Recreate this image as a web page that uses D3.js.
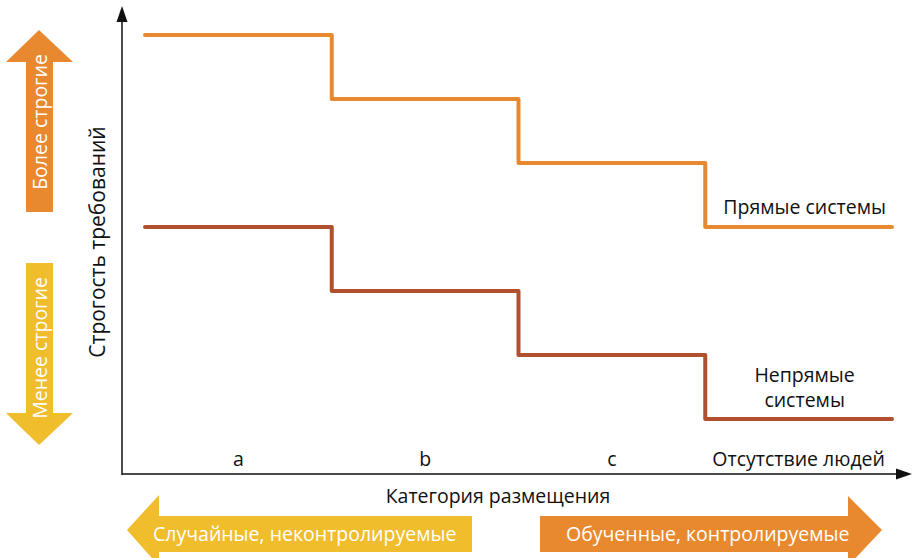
<!DOCTYPE html>
<html>
<head>
<meta charset="utf-8">
<script src="https://cdn.jsdelivr.net/npm/d3@7"></script>
<style>
  body { margin: 0; background: #fff; }
  svg { display: block; font-family: 'Open Sans', sans-serif; }
</style>
</head>
<body>
<div id="root"></div>
<script>
// categories along x, step levels for the two series
const categories = ['a', 'b', 'c', 'Отсутствие людей']
const directLevels = [7, 6, 5, 4]
const indirectLevels = [4, 3, 2, 1]
const seriesNames = ['Прямые системы', 'Непрямые системы']

const width = 914
const height = 558
const orange = '#e8892f'
const rust = '#b0502c'
const yellow = '#f0bd2c'

const svg = d3.select('#root').append('svg')
  .attr('width', width)
  .attr('height', height)

const x = d3.scaleBand().domain(categories).range([145, 892])
const y = d3.scaleLinear().domain([1, 7]).range([419, 35])

const axisX0 = 122
const axisY0 = 474

// axes with arrow heads
svg.append('line')
  .attr('x1', axisX0).attr('x2', axisX0)
  .attr('y1', axisY0 + 1).attr('y2', 20)
  .attr('stroke', '#111').attr('stroke-width', 1.5)
svg.append('path')
  .attr('d', `M${axisX0},6 L${axisX0 + 5.5},22 L${axisX0 - 5.5},22 Z`)
  .attr('fill', '#111')
svg.append('line')
  .attr('x1', axisX0).attr('x2', 898)
  .attr('y1', axisY0).attr('y2', axisY0)
  .attr('stroke', '#111').attr('stroke-width', 1.5)
svg.append('path')
  .attr('d', `M912,${axisY0} L896,${axisY0 - 5.5} L896,${axisY0 + 5.5} Z`)
  .attr('fill', '#111')

// category labels
svg.append('g').selectAll('text')
  .data(categories)
  .join('text')
  .attr('x', d => x(d) + x.bandwidth() / 2)
  .attr('y', 466)
  .attr('text-anchor', 'middle')
  .attr('font-size', 19.5)
  .attr('fill', '#111')
  .text(d => d)

// step lines
const line = d3.line()
  .x(d => d[0])
  .y(d => d[1])
  .curve(d3.curveStepAfter)

function stepPoints(levels) {
  const pts = categories.map((c, i) => [x(c), y(levels[i])])
  const last = categories[categories.length - 1]
  pts.push([x(last) + x.bandwidth(), y(levels[levels.length - 1])])
  return pts
}

svg.append('path')
  .attr('d', line(stepPoints(directLevels)))
  .attr('fill', 'none')
  .attr('stroke', orange)
  .attr('stroke-width', 4)
  .attr('stroke-linejoin', 'round')
  .attr('stroke-linecap', 'round')

svg.append('path')
  .attr('d', line(stepPoints(indirectLevels)))
  .attr('fill', 'none')
  .attr('stroke', rust)
  .attr('stroke-width', 4)
  .attr('stroke-linejoin', 'round')
  .attr('stroke-linecap', 'round')

// series labels
const lastCat = categories[categories.length - 1]
const labelX = x(lastCat) + x.bandwidth() / 2 + 6
svg.append('text')
  .attr('x', labelX)
  .attr('y', y(directLevels[3]) - 13)
  .attr('text-anchor', 'middle')
  .attr('font-size', 19.5)
  .attr('fill', '#111')
  .text(seriesNames[0])

const ind = svg.append('text')
  .attr('x', labelX)
  .attr('text-anchor', 'middle')
  .attr('font-size', 19.5)
  .attr('fill', '#111')
ind.append('tspan').attr('x', labelX).attr('y', y(indirectLevels[3]) - 37).text('Непрямые')
ind.append('tspan').attr('x', labelX).attr('y', y(indirectLevels[3]) - 12).text('системы')

// axis titles
svg.append('text')
  .attr('x', 498)
  .attr('y', 503)
  .attr('text-anchor', 'middle')
  .attr('font-size', 19.5)
  .attr('fill', '#111')
  .text('Категория размещения')

svg.append('text')
  .attr('transform', 'translate(105,242) rotate(-90)')
  .attr('text-anchor', 'middle')
  .attr('font-size', 21)
  .attr('fill', '#111')
  .text('Строгость требований')

// vertical arrows on the left
svg.append('path')
  .attr('d', 'M39,30 L73,62 L53,62 L53,212 L26,212 L26,62 L6,62 Z')
  .attr('fill', orange)
svg.append('text')
  .attr('transform', 'translate(47,122) rotate(-90)')
  .attr('text-anchor', 'middle')
  .attr('font-size', 19.5)
  .attr('fill', '#fff')
  .text('Более строгие')

svg.append('path')
  .attr('d', 'M26,263 L53,263 L53,413 L73,413 L39,445 L6,413 L26,413 Z')
  .attr('fill', yellow)
svg.append('text')
  .attr('transform', 'translate(47,348) rotate(-90)')
  .attr('text-anchor', 'middle')
  .attr('font-size', 19.5)
  .attr('fill', '#fff')
  .text('Менее строгие')

// horizontal arrows at the bottom
svg.append('path')
  .attr('d', 'M127,530 L159,495 L159,516 L472,516 L472,552 L159,552 L159,566 Z')
  .attr('fill', yellow)
svg.append('text')
  .attr('x', 153)
  .attr('y', 541)
  .attr('font-size', 19.5)
  .attr('fill', '#fff')
  .text('Случайные, неконтролируемые')

svg.append('path')
  .attr('d', 'M540,516 L848,516 L848,496 L882,530 L848,566 L848,552 L540,552 Z')
  .attr('fill', orange)
svg.append('text')
  .attr('x', 566)
  .attr('y', 541)
  .attr('font-size', 19.5)
  .attr('fill', '#fff')
  .text('Обученные, контролируемые')
</script>
</body>
</html>
